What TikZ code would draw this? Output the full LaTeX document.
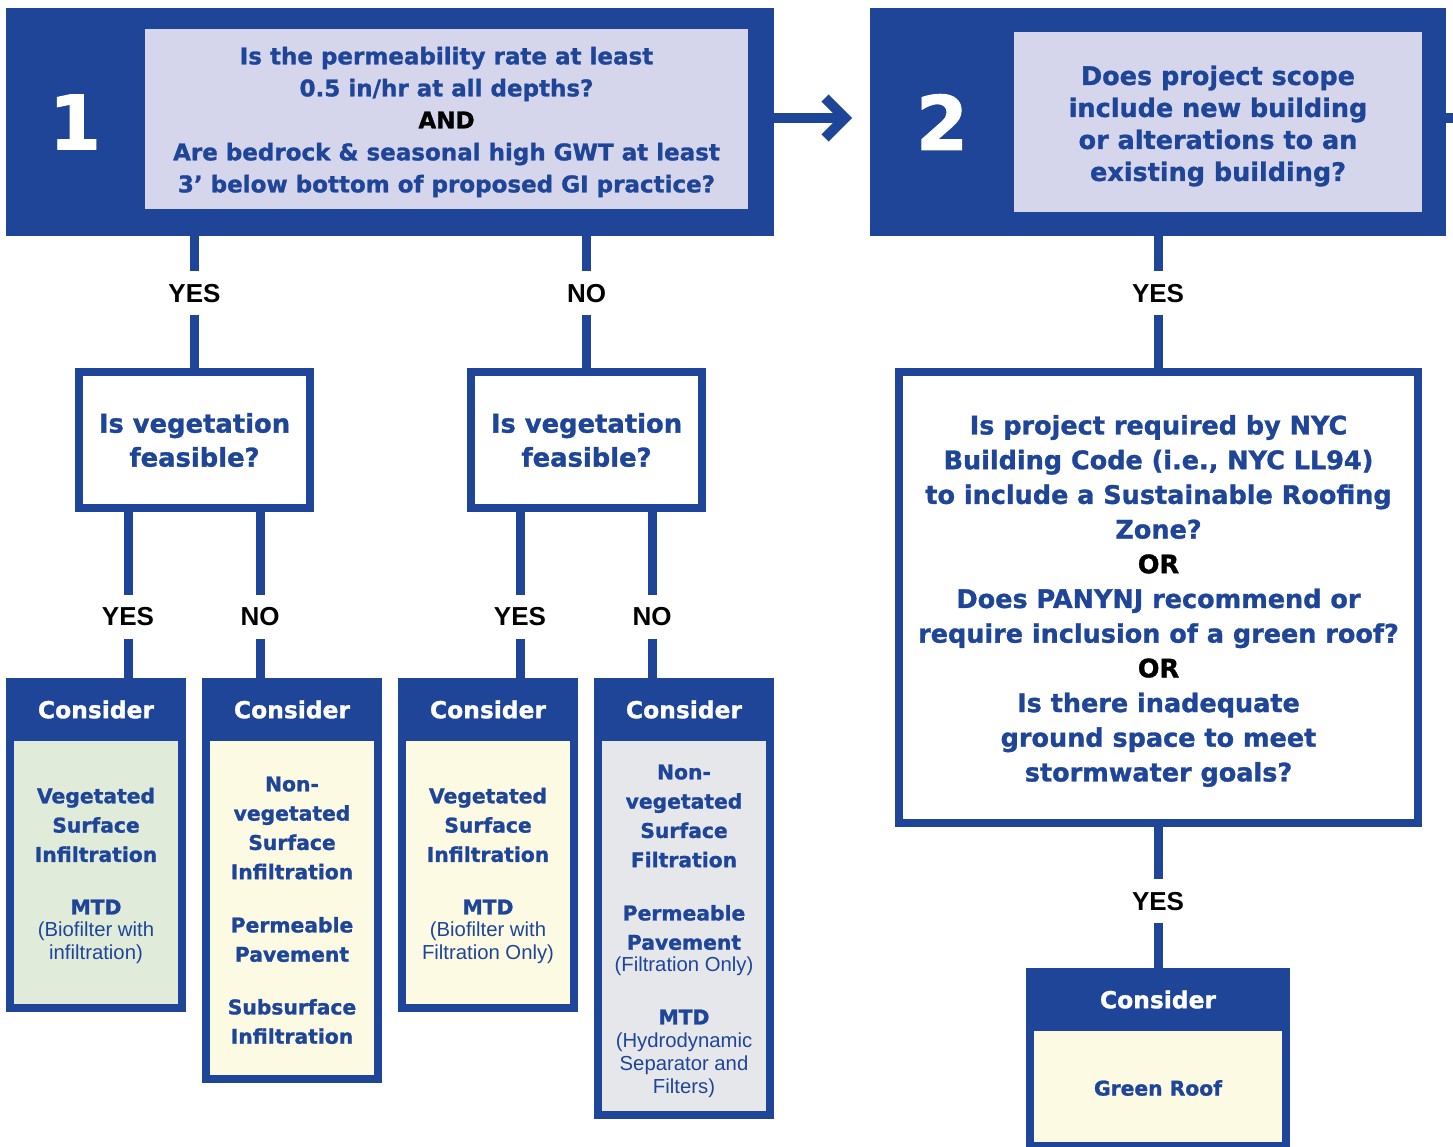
\documentclass[tikz,border=0pt]{standalone}
\usepackage{fontspec}
\setmainfont{Liberation Sans}
\newfontfamily\heavy{DejaVu Sans}[BoldFeatures={FakeBold=1.2}]
\usetikzlibrary{calc}

\definecolor{navy}{RGB}{31,69,153}
\definecolor{lavender}{RGB}{213,214,235}
\definecolor{sage}{RGB}{224,235,218}
\definecolor{cream}{RGB}{252,250,226}
\definecolor{mist}{RGB}{229,231,234}

\newcommand\fs[2]{\fontsize{#1}{#2}\selectfont}

\tikzset{
  panel/.style={fill=navy, draw=none, inner sep=0pt, outer sep=0pt},
  qfill/.style={fill=lavender, draw=none, inner sep=0pt, outer sep=0pt},
  framed/.style={draw=navy, line width=8pt, fill=white, inner sep=0pt, outer sep=0pt},
  numtext/.style={text=white, font=\heavy\bfseries\fs{75}{80}},
  qtext/.style={text=navy, align=center, font=\heavy\bfseries},
  conn/.style={draw=navy, line width=9pt},
  lbl/.style={fill=white, text=black, font=\bfseries\fs{26}{30}, inner xsep=4pt, inner ysep=0pt, minimum height=44pt},
  hdr/.style={panel, text=white, font=\heavy\bfseries\fs{23.4}{28}},
  body/.style={draw=navy, line width=8pt, inner sep=0pt, outer sep=0pt, minimum width=172pt},
  boldtext/.style={text=navy, align=center, font=\heavy\bfseries\fs{20.3}{29.3}},
  regtext/.style={text=navy, align=center, font=\fs{20.3}{23}},
}

\begin{document}
\begin{tikzpicture}[x=1pt, y=-1pt]
\useasboundingbox (0,0) rectangle (1453,1146);
\clip (0,0) rectangle (1453,1146);

% ---------- step 1 ----------
\node[panel, minimum width=768pt, minimum height=228pt] (b1) at (390,122) {};
\node[qfill, minimum width=603pt, minimum height=180pt] (q1) at (446.5,119) {};
\node[numtext] (n1) at (75,122) {1};
\node[qtext, font=\heavy\bfseries\fs{23}{32}] (t1) at (446.5,122)
  {Is the permeability rate at least\\0.5 in/hr at all depths?\\\textcolor{black}{AND}\\Are bedrock \& seasonal high GWT at least\\3’ below bottom of proposed GI practice?};

% ---------- step 2 ----------
\node[panel, minimum width=576pt, minimum height=228pt] (b2) at (1158,122) {};
\node[qfill, minimum width=408pt, minimum height=180pt] (q2) at (1218,122) {};
\node[numtext] (n2) at (942,122) {2};
\node[qtext, font=\heavy\bfseries\fs{25.5}{32}] (t2) at (1218,126)
  {Does project scope\\include new building\\or alterations to an\\existing building?};

% arrow from step 1 to step 2
\draw[navy, line width=10pt] ([yshift=4pt]b1.east) -- ([xshift=-25pt, yshift=4pt]b2.west);
\draw[navy, line width=10pt, miter limit=4] ([xshift=-45pt, yshift=-16pt]b2.west) -- ([xshift=-25pt, yshift=4pt]b2.west) -- ([xshift=-45pt, yshift=24pt]b2.west);
% continuation beyond step 2
\draw[navy, line width=10pt] ([yshift=4pt]b2.east) -- ++(20,0);

% ---------- vegetation questions ----------
\node[framed, minimum width=231pt, minimum height=136pt] (v1) at (194.5,440) {};
\node[qtext, font=\heavy\bfseries\fs{25.8}{34}] at (v1) {Is vegetation\\feasible?};
\node[framed, minimum width=231pt, minimum height=136pt] (v2) at (586.5,440) {};
\node[qtext, font=\heavy\bfseries\fs{25.8}{34}] at (v2) {Is vegetation\\feasible?};

% ---------- green roof question ----------
\node[framed, minimum width=519pt, minimum height=451pt] (big) at (1158.5,597.5) {};
\node[qtext, font=\heavy\bfseries\fs{25.5}{34.7}] (tbig) at (1158.5,601)
  {Is project required by NYC\\Building Code (i.e., NYC LL94)\\to include a Sustainable Roofing\\Zone?\\\textcolor{black}{OR}\\Does PANYNJ recommend or\\require inclusion of a green roof?\\\textcolor{black}{OR}\\Is there inadequate\\ground space to meet\\stormwater goals?};

% ---------- consider boxes ----------
% A: vegetated infiltration
\node[body, fill=sage, minimum height=326pt] (bA) at (96,845) {};
\node[hdr, minimum width=180pt, minimum height=63pt] (hA) at (96,709.5) {Consider};
\node[boldtext] at (96,825) {Vegetated\\Surface\\Infiltration};
\node[boldtext] at (96,907) {MTD};
\node[regtext] at (96,943) {(Biofilter with\\infiltration)};

% B: non-vegetated infiltration
\node[body, fill=cream, minimum height=397pt] (bB) at (292,880.5) {};
\node[hdr, minimum width=180pt, minimum height=63pt] (hB) at (292,709.5) {Consider};
\node[boldtext] at (292,828) {Non-\\vegetated\\Surface\\Infiltration};
\node[boldtext] at (292,939.5) {Permeable\\Pavement};
\node[boldtext] at (292,1021.5) {Subsurface\\Infiltration};

% C: vegetated, filtration only
\node[body, fill=cream, minimum height=326pt] (bC) at (488,845) {};
\node[hdr, minimum width=180pt, minimum height=63pt] (hC) at (488,709.5) {Consider};
\node[boldtext] at (488,825) {Vegetated\\Surface\\Infiltration};
\node[boldtext] at (488,907) {MTD};
\node[regtext] at (488,943) {(Biofilter with\\Filtration Only)};

% D: non-vegetated filtration
\node[body, fill=mist, minimum height=433pt] (bD) at (684,898.5) {};
\node[hdr, minimum width=180pt, minimum height=63pt] (hD) at (684,709.5) {Consider};
\node[boldtext] at (684,816) {Non-\\vegetated\\Surface\\Filtration};
\node[boldtext] at (684,927.5) {Permeable\\Pavement};
\node[regtext] at (684,966) {(Filtration Only)};
\node[boldtext] at (684,1017) {MTD};
\node[regtext] at (684,1065) {(Hydrodynamic\\Separator and\\Filters)};

% E: green roof
\node[body, fill=cream, minimum width=256pt, minimum height=174pt] (bE) at (1158,1059) {};
\node[hdr, minimum width=264pt, minimum height=63pt] (hE) at (1158,999.5) {Consider};
\node[boldtext] at (1158,1088) {Green Roof};

% ---------- connectors ----------
\draw[conn] (v1.north |- b1.south) -- (v1.north) node[lbl, pos=0.42] {YES};
\draw[conn] (v2.north |- b1.south) -- (v2.north) node[lbl, pos=0.42] {NO};
\draw[conn] ([xshift=-66.5pt]v1.south) -- ([xshift=-66.5pt]v1.south |- hA.north) node[lbl, pos=0.64] {YES};
\draw[conn] ([xshift=65.5pt]v1.south) -- ([xshift=65.5pt]v1.south |- hB.north) node[lbl, pos=0.64] {NO};
\draw[conn] ([xshift=-66.5pt]v2.south) -- ([xshift=-66.5pt]v2.south |- hC.north) node[lbl, pos=0.64] {YES};
\draw[conn] ([xshift=65.5pt]v2.south) -- ([xshift=65.5pt]v2.south |- hD.north) node[lbl, pos=0.64] {NO};
\draw[conn] (hE.north |- b2.south) -- (hE.north |- big.north) node[lbl, pos=0.42] {YES};
\draw[conn] (hE.north |- big.south) -- (hE.north) node[lbl, pos=0.54] {YES};
\end{tikzpicture}
\end{document}
